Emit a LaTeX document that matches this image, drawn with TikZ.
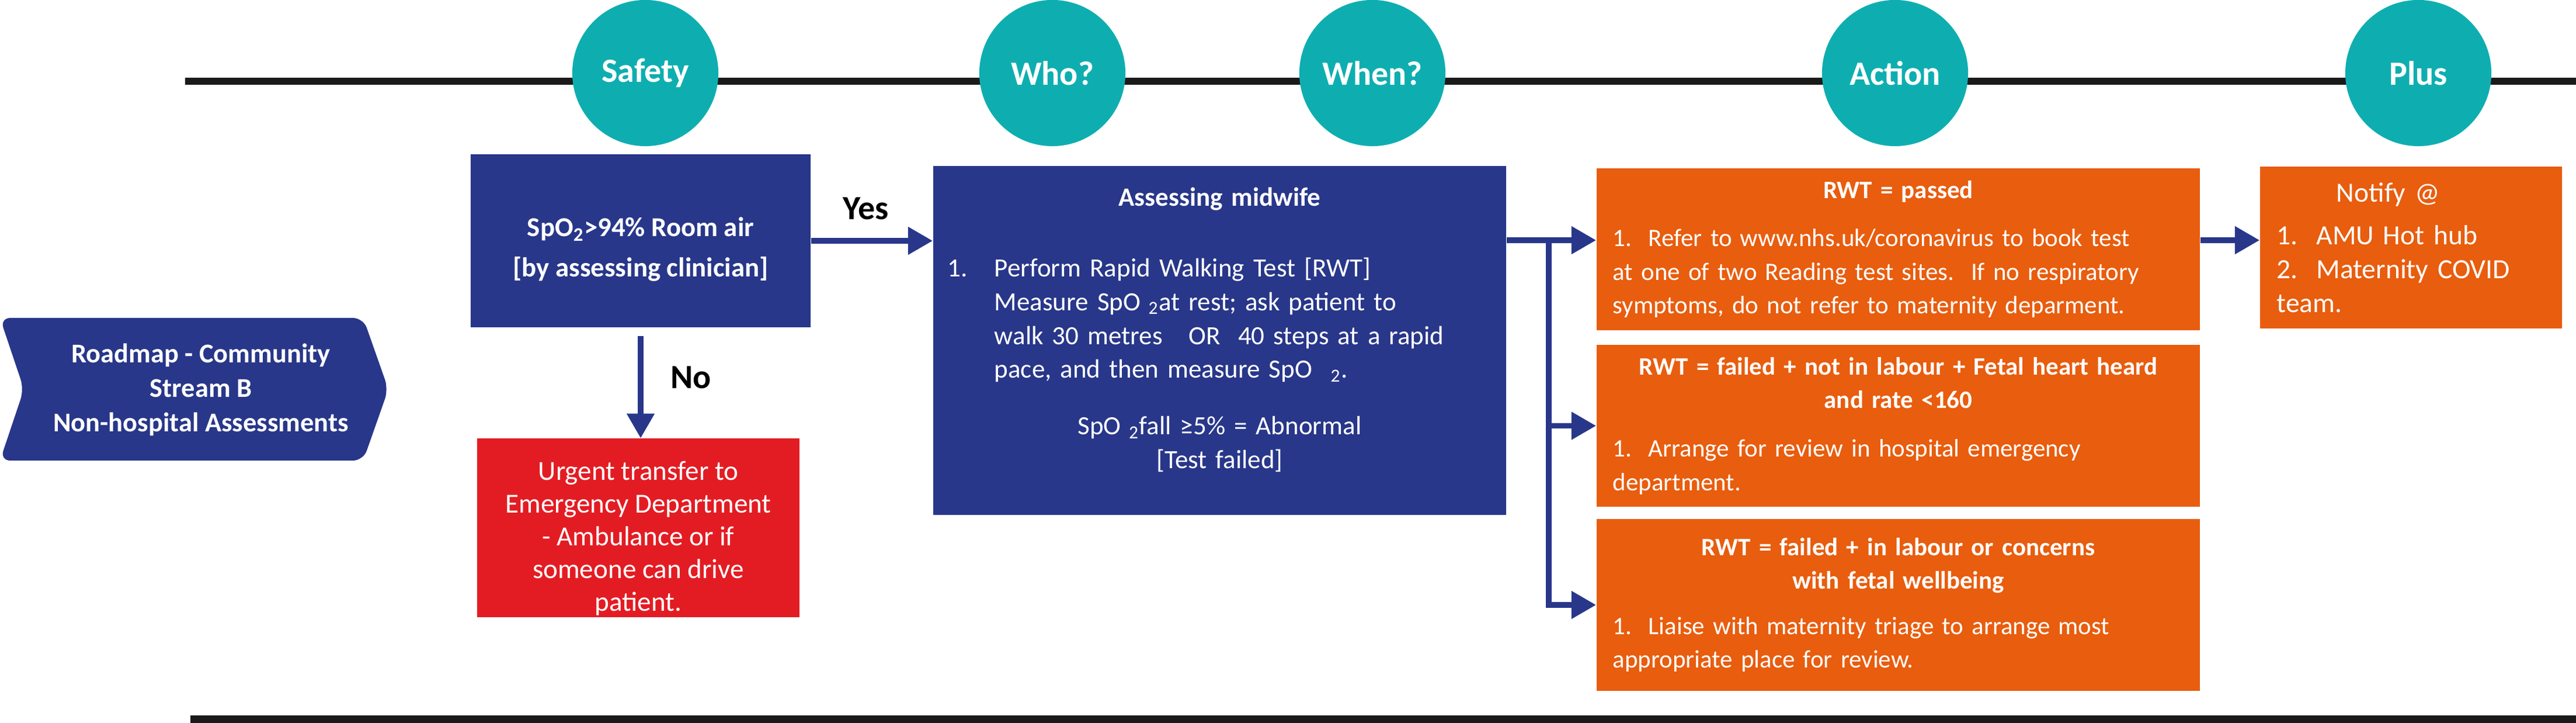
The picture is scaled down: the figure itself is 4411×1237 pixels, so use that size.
\documentclass[tikz,border=0pt]{standalone}
\usepackage{fontspec}
\setmainfont{Carlito}
\usetikzlibrary{arrows.meta,positioning}
\setlength{\parindent}{0pt}

\definecolor{stageteal}{RGB}{14,174,176}
\definecolor{navy}{RGB}{40,55,137}
\definecolor{actionorange}{RGB}{232,93,14}
\definecolor{urgentred}{RGB}{227,28,35}
\definecolor{timeline}{RGB}{26,26,26}

\tikzset{
  stage/.style={circle,fill=stageteal,minimum size=2.5cm,inner sep=0pt,text=white,
    font=\fontsize{16.5}{20}\selectfont\bfseries},
  card/.style={rectangle,inner ysep=0pt,text=white,font=\fontsize{12.2}{16.3}\selectfont},
  flow/.style={draw=navy,line width=2.6pt,-{Triangle[width=13pt,length=12pt]}},
  answer/.style={text=black,font=\fontsize{16.5}{20}\selectfont\bfseries},
}

\begin{document}
\begin{tikzpicture}[x=0.01cm,y=-0.01cm]
\useasboundingbox (0,0) rectangle (4411,1237);
\draw[timeline,line width=3.4pt] (317,139) -- (4411,139);
\draw[timeline,line width=3.7pt] (326,1230.5) -- (4411,1230.5);

\node[stage] (safety) at (1105,125) {Safety};
\node[stage] (who) at (1802,125) {Who?};
\node[stage] (when) at (2350,125) {When?};
\node[stage] (action) at (3245,125) {Action};
\node[stage] (plus) at (4141,125) {Plus};

% roadmap banner
\fill[navy,rounded corners=5] (0,544) -- (622,544) -- (665,666) -- (622,788) -- (0,788) -- (41,666) -- cycle;
\node[card,align=center,font=\fontsize{13.2}{16.8}\selectfont\bfseries] (roadmap) at (344,667)
  {Roadmap - Community\\Stream B\\Non-hospital Assessments};

\node[card,fill=navy,minimum width=5.82cm,minimum height=2.95cm,align=center,
  font=\fontsize{13.3}{19.5}\selectfont\bfseries] (spo) at (1097,412)
  {\rule{0pt}{0.62cm}SpO\textsubscript{2}>94\% Room air\\{[by assessing clinician]}};

\node[card,fill=urgentred,minimum width=5.52cm,minimum height=3.05cm,align=center,
  font=\fontsize{13.4}{15.9}\selectfont] (urgent) at (1093,903)
  {\rule{0pt}{0.68cm}Urgent transfer to\\Emergency Department\\- Ambulance or if\\someone can drive\\patient.};

\node[card,fill=navy,minimum width=9.81cm,minimum height=5.97cm,inner xsep=0.25cm,
  text width=9.31cm,align=left,font=\fontsize{12.8}{16.4}\selectfont] (midwife) at (2088.5,582.5) {%
  {\centering\bfseries Assessing midwife\par}\vspace{0.63cm}
  \makebox[0.8cm][l]{1.}\parbox[t]{8.51cm}{Perform Rapid Walking Test [RWT]\\
  Measure SpO\hspace{0.3em}\textsubscript{2}at rest; ask patient to\\
  walk 30 metres\ \ \ OR\ \ 40 steps at a rapid\\
  pace, and then measure SpO\hspace{0.7em}\textsubscript{2}.}\par\vspace{0.55cm}
  {\centering SpO\hspace{0.3em}\textsubscript{2}fall ≥5\% = Abnormal\\{}[Test failed]\par}\vspace{0.36cm}};

\node[card,fill=actionorange,minimum width=10.33cm,minimum height=2.77cm,inner xsep=0.28cm,
  text width=9.77cm,align=left] (passed) at (3250.5,426.5) {%
  {\centering\bfseries RWT = passed\par}\vspace{0.25cm}
  1.\ \ Refer to www.nhs.uk/coronavirus to book test\\
  at one of two Reading test sites.\ \ If no respiratory\\
  symptoms, do not refer to maternity deparment.};

\node[card,fill=actionorange,minimum width=10.33cm,minimum height=2.77cm,inner xsep=0.28cm,
  text width=9.77cm,align=left] (notlabour) at (3250.5,728.5) {%
  {\centering\bfseries RWT = failed + not in labour + Fetal heart heard\\and rate <160\par}\vspace{0.26cm}
  1.\ \ Arrange for review in hospital emergency\\
  department.};

\node[card,fill=actionorange,minimum width=10.33cm,minimum height=2.94cm,inner xsep=0.28cm,
  text width=9.77cm,align=left] (inlabour) at (3250.5,1035) {%
  {\centering\bfseries RWT = failed + in labour or concerns\\with fetal wellbeing\par}\vspace{0.2cm}
  1.\ \ Liaise with maternity triage to arrange most\\
  appropriate place for review.};

\node[card,fill=actionorange,minimum width=5.17cm,minimum height=2.77cm,inner xsep=0.29cm,
  text width=4.59cm,align=left,font=\fontsize{13.5}{16.5}\selectfont] (notify) at (4128.5,423.5) {%
  \hspace*{1.02cm}Notify @\par\vspace{0.15cm}
  1.\ \ AMU Hot hub\\
  2.\ \ Maternity COVID\\
  team.};

\coordinate (split) at (2652,411);

\draw[flow] (spo.east) -- (spo.east -| midwife.west) node[answer,pos=0.45,above=0.2cm] (yes) {Yes};
\draw[flow,shorten <=0.15cm] (spo.south) -- (spo.south |- urgent.north) node[answer,pos=0.45,right=0.35cm] (no) {No};
\draw[flow] (midwife.east |- split) -- (passed.west |- split);
\draw[flow] (split) |- (inlabour.west);
\draw[flow] (split |- notlabour.west) -- (notlabour.west);
\draw[flow] (passed.east |- split) -- (notify.west |- split);
\end{tikzpicture}
\end{document}
